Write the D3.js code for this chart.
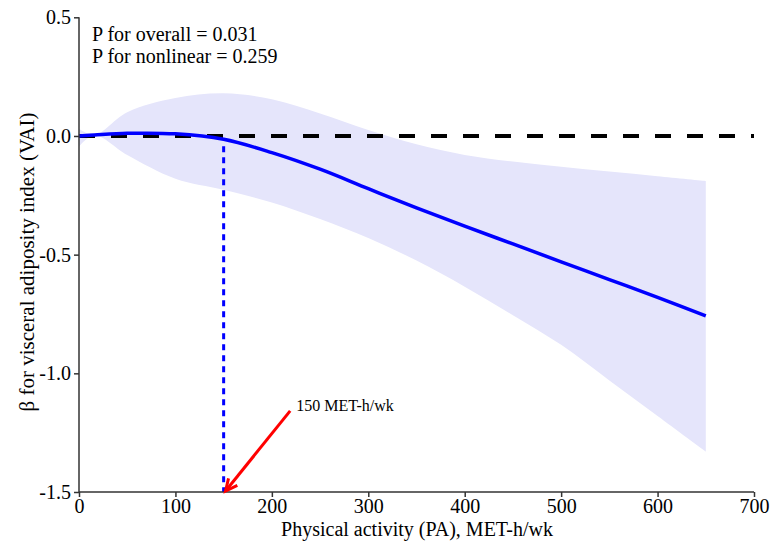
<!DOCTYPE html>
<html>
<head>
<meta charset="utf-8">
<script src="https://d3js.org/d3.v7.min.js"></script>
<style>
  body { margin: 0; background: #fff; }
  svg text { font-family: "Liberation Serif", "Times New Roman", serif; fill: #000; }
  .axis path, .axis line { stroke: #333; stroke-width: 1.5; }
</style>
</head>
<body>
<script>
  // physical activity (MET-h/wk) and estimated beta with 95% CI
  var pa    = [0, 16, 50, 100, 150, 200, 250, 300, 350, 400, 450, 500, 550, 600, 650];
  var beta  = [0, 0.004, 0.011, 0.009, -0.014, -0.07, -0.14, -0.222, -0.303, -0.38, -0.455, -0.53, -0.605, -0.68, -0.758];
  var upper = [0.03, 0.004, 0.10, 0.16, 0.18, 0.155, 0.095, 0.025, -0.035, -0.08, -0.108, -0.13, -0.15, -0.17, -0.19];
  var lower = [-0.045, 0.003, -0.08, -0.18, -0.227, -0.28, -0.35, -0.43, -0.525, -0.635, -0.755, -0.88, -1.03, -1.18, -1.33];

  var xTicks = [0, 100, 200, 300, 400, 500, 600, 700];
  var yTicks = [-1.5, -1.0, -0.5, 0.0, 0.5];
  var pText = ["P for overall = 0.031", "P for nonlinear = 0.259"];
  var cutoff = 150;

  var width = 771, height = 546;
  var serif = '"Liberation Serif", "Times New Roman", serif';
  var svg = d3.select("body").append("svg")
      .attr("width", width)
      .attr("height", height);

  var x = d3.scaleLinear().domain([0, 700]).range([79, 754]);
  var y = d3.scaleLinear().domain([-1.5, 0.5]).range([492, 17.3]);

  var data = pa.map(function(d, i) {
    return { pa: d, beta: beta[i], lo: lower[i], hi: upper[i] };
  });

  // CI band
  svg.append("path")
      .datum(data)
      .attr("fill", "#e5e5fb")
      .attr("d", d3.area()
        .curve(d3.curveCatmullRom.alpha(0.5))
        .x(function(d) { return x(d.pa); })
        .y0(function(d) { return y(d.lo); })
        .y1(function(d) { return y(d.hi); }));

  // reference line
  svg.append("line")
      .attr("x1", x(0)).attr("x2", x(700))
      .attr("y1", y(0)).attr("y2", y(0))
      .attr("stroke", "#000")
      .attr("stroke-width", 4)
      .attr("stroke-dasharray", "16,16");

  // fitted curve
  svg.append("path")
      .datum(data)
      .attr("fill", "none")
      .attr("stroke", "#0000ff")
      .attr("stroke-width", 3.5)
      .attr("d", d3.line()
        .curve(d3.curveCatmullRom.alpha(0.5))
        .x(function(d) { return x(d.pa); })
        .y(function(d) { return y(d.beta); }));

  // vertical dotted line at 150
  svg.append("line")
      .attr("x1", x(cutoff)).attr("x2", x(cutoff))
      .attr("y1", y(-0.014) + 7).attr("y2", y(-1.5))
      .attr("stroke", "#0000ff")
      .attr("stroke-width", 3)
      .attr("stroke-dasharray", "6,5");

  // axes
  var fmtY = function(d) { return d3.format(".1f")(d).replace("−", "-"); };

  var gx = svg.append("g")
      .attr("class", "axis")
      .attr("transform", "translate(0," + y(-1.5) + ")")
      .call(d3.axisBottom(x).tickValues(xTicks).tickSize(5).tickPadding(2).tickFormat(d3.format("d")));
  gx.select(".domain").attr("d", "M" + x(0) + ",0H" + x(700));

  var gy = svg.append("g")
      .attr("class", "axis")
      .attr("transform", "translate(" + x(0) + ",0)")
      .call(d3.axisLeft(y).tickValues(yTicks).tickSize(5).tickPadding(3).tickFormat(fmtY));
  gy.select(".domain").attr("d", "M0," + y(0.5) + "V" + y(-1.5));

  svg.selectAll(".axis text")
      .style("font-family", serif)
      .style("font-size", "20px");

  // axis titles
  svg.append("text")
      .attr("x", 417)
      .attr("y", 536)
      .attr("text-anchor", "middle")
      .style("font-family", serif)
      .style("font-size", "20px")
      .text("Physical activity (PA), MET-h/wk");

  svg.append("text")
      .attr("transform", "translate(34,262) rotate(-90)")
      .attr("text-anchor", "middle")
      .style("font-family", serif)
      .style("font-size", "21px")
      .text("β for visceral adiposity index (VAI)");

  // p values
  svg.selectAll(".ptext")
      .data(pText)
    .enter().append("text")
      .attr("class", "ptext")
      .attr("x", 92)
      .attr("y", function(d, i) { return 41 + i * 22; })
      .style("font-family", serif)
      .style("font-size", "20px")
      .text(function(d) { return d; });

  // arrow annotation
  var tipX = x(152), tipY = y(-1.5) - 1;
  var fromX = x(219), fromY = y(-1.158);
  var ang = Math.atan2(tipY - fromY, tipX - fromX);
  var head = 13, spread = 0.45;

  svg.append("line")
      .attr("x1", fromX).attr("y1", fromY)
      .attr("x2", tipX).attr("y2", tipY)
      .attr("stroke", "#ff0000")
      .attr("stroke-width", 3);

  svg.append("path")
      .attr("fill", "none")
      .attr("stroke", "#ff0000")
      .attr("stroke-width", 3)
      .attr("d", "M" + (tipX - head * Math.cos(ang - spread)) + "," + (tipY - head * Math.sin(ang - spread)) +
                 "L" + tipX + "," + tipY +
                 "L" + (tipX - head * Math.cos(ang + spread)) + "," + (tipY - head * Math.sin(ang + spread)));

  svg.append("text")
      .attr("x", fromX + 6)
      .attr("y", fromY)
      .style("font-family", serif)
      .style("font-size", "16px")
      .text("150 MET-h/wk");
</script>
</body>
</html>
